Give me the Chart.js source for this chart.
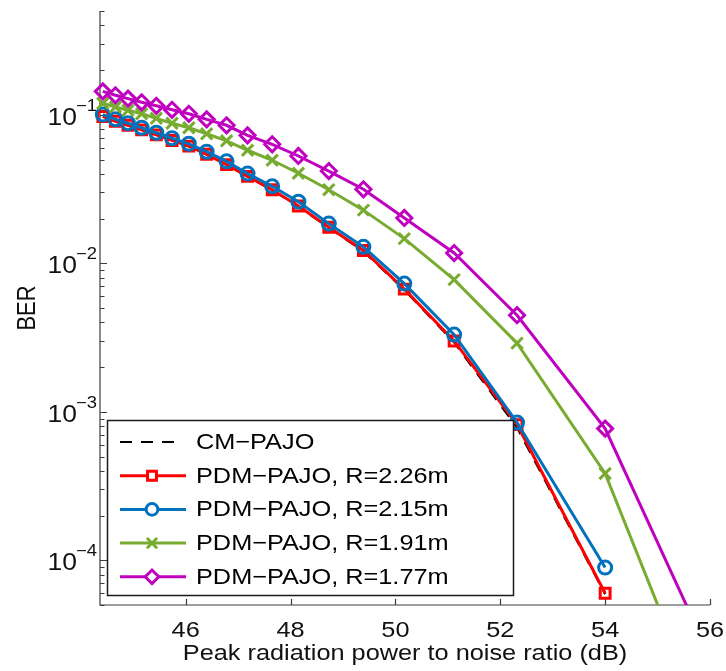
<!DOCTYPE html>
<html>
<head>
<meta charset="utf-8">
<script src="https://cdn.jsdelivr.net/npm/chart.js@4.4.1/dist/chart.umd.min.js"></script>
<style>
html,body{margin:0;padding:0;background:#fff;}
#wrap{width:726px;height:671px;position:relative;}
</style>
</head>
<body>
<div id="wrap"><canvas id="c" width="726" height="671"></canvas></div>
<script>
// ---- data ----
const snrDb = [44.42, 44.66, 44.90, 45.16, 45.44, 45.74, 46.06, 46.40, 46.78, 47.18, 47.65, 48.15, 48.73, 49.39, 50.17, 51.12, 52.32, 54.00, 56.81];
const berCM   = [0.0973, 0.0903, 0.0848, 0.0790, 0.0730, 0.0670, 0.0612, 0.0540, 0.0460, 0.0383, 0.0311, 0.0241, 0.0173, 0.0120, 0.0066, 0.00293, 0.00078, 0.0000590];
const berR226 = [0.0975, 0.0905, 0.0850, 0.0792, 0.0732, 0.0672, 0.0615, 0.0542, 0.0462, 0.0385, 0.0313, 0.0243, 0.0175, 0.0122, 0.0067, 0.0030, 0.00082, 0.0000600];
const berR215 = [0.1003, 0.0933, 0.0877, 0.0818, 0.0757, 0.0695, 0.0638, 0.0564, 0.0486, 0.0402, 0.0330, 0.0260, 0.0185, 0.0129, 0.00730, 0.00331, 0.000846, 0.0000893];
const berR191 = [0.1195, 0.1128, 0.1072, 0.1016, 0.0947, 0.0877, 0.0818, 0.0745, 0.0668, 0.0577, 0.0494, 0.0404, 0.0313, 0.0228, 0.01466, 0.00776, 0.00290, 0.000384, 0.00000127];
const berR177 = [0.1439, 0.1353, 0.1285, 0.1214, 0.1150, 0.1081, 0.1016, 0.0932, 0.0850, 0.0727, 0.0633, 0.0528, 0.0418, 0.0315, 0.0202, 0.01173, 0.00447, 0.000771, 0.00000538];

const seriesNames = ['CM\u2212PAJO', 'PDM\u2212PAJO, R=2.26m', 'PDM\u2212PAJO, R=2.15m', 'PDM\u2212PAJO, R=1.91m', 'PDM\u2212PAJO, R=1.77m'];
const xTickValues = [46, 48, 50, 52, 54, 56];
const yMajorValues = [1e-4, 1e-3, 1e-2, 1e-1];
const yMajorBase = ['10', '10', '10', '10'];
const yMajorExp = ['\u22124', '\u22123', '\u22122', '\u22121'];
const xTitle = 'Peak radiation power to noise ratio (dB)';
const yTitle = 'BER';

const X_MIN = 44.366, X_MAX = 56, Y_MIN = 5e-5, Y_MAX = 0.5;
const FONT = '"Liberation Sans", Arial, Helvetica, sans-serif';
const SX = 1.15; // horizontal stretch of the reference text

function pts(vals) { return vals.map((v, i) => ({x: snrDb[i], y: v})); }

const styles = [
  {color: '#000000', pointStyle: false, radius: 0, width: 2, dash: [12, 9], order: 5},
  {color: '#ff0000', pointStyle: 'rect', radius: 7, width: 3, dash: [], order: 4},
  {color: '#0072bd', pointStyle: 'circle', radius: 6.5, width: 3, dash: [], order: 3},
  {color: '#77ac30', pointStyle: 'crossRot', radius: 8, width: 3, dash: [], order: 2},
  {color: '#bf00bf', pointStyle: 'rectRot', radius: 7.5, width: 3, dash: [], order: 1}
];
const seriesData = [berCM, berR226, berR215, berR191, berR177];

const datasets = seriesData.map((vals, i) => {
  const s = styles[i];
  return {
    label: seriesNames[i],
    data: pts(vals),
    borderColor: s.color,
    backgroundColor: 'rgba(0,0,0,0)',
    borderWidth: s.width,
    borderDash: s.dash,
    pointStyle: s.pointStyle,
    pointRadius: s.radius,
    pointBorderWidth: 3,
    pointBorderColor: s.color,
    pointBackgroundColor: 'rgba(0,0,0,0)',
    tension: 0,
    fill: false,
    order: s.order,
    clip: {left: 14, top: 14, right: 0, bottom: 0}
  };
});

function sText(ctx, text, x, y, align) {
  ctx.save();
  ctx.translate(x, y);
  ctx.scale(SX, 1);
  ctx.textAlign = align;
  ctx.fillText(text, 0, 0);
  ctx.restore();
}

const axesPlugin = {
  id: 'matlabAxes',
  beforeDatasetsDraw(chart) {
    const ctx = chart.ctx;
    const xs = chart.scales.x, ys = chart.scales.y;
    const a = chart.chartArea;
    ctx.save();
    ctx.strokeStyle = '#3c3c3c';
    ctx.lineWidth = 1.2;
    ctx.beginPath();
    ctx.moveTo(a.left, a.top); ctx.lineTo(a.left, a.bottom); ctx.lineTo(a.right, a.bottom);
    ctx.stroke();
    // x ticks (inward)
    ctx.beginPath();
    xTickValues.forEach(v => {
      const px = Math.round(xs.getPixelForValue(v)) + 0.5;
      ctx.moveTo(px, a.bottom); ctx.lineTo(px, a.bottom - 6);
    });
    // y ticks, majors and minors (inward)
    for (let e = -5; e <= -1; e++) {
      for (let m = 1; m <= 9; m++) {
        const v = m * Math.pow(10, e);
        if (v < Y_MIN * 0.999 || v > Y_MAX * 1.001) continue;
        const py = Math.round(ys.getPixelForValue(v)) + 0.5;
        ctx.moveTo(a.left, py); ctx.lineTo(a.left + (m === 1 ? 7 : 4.5), py);
      }
    }
    ctx.stroke();
    // tick labels
    ctx.fillStyle = '#111';
    ctx.textBaseline = 'alphabetic';
    ctx.font = '22px ' + FONT;
    xTickValues.forEach(v => {
      sText(ctx, String(v), xs.getPixelForValue(v), a.bottom + 32, 'center');
    });
    yMajorValues.forEach((v, i) => {
      const py = ys.getPixelForValue(v);
      ctx.font = '16px ' + FONT;
      const supW = ctx.measureText(yMajorExp[i]).width * SX;
      const xr = a.left - 3;
      sText(ctx, yMajorExp[i], xr - supW, py - 4, 'left');
      ctx.font = '23px ' + FONT;
      sText(ctx, yMajorBase[i], xr - supW + 1, py + 10, 'right');
    });
    // axis titles
    ctx.font = '22px ' + FONT;
    sText(ctx, xTitle, (a.left + a.right) / 2, 659.5, 'center');
    ctx.save();
    ctx.translate(35, (a.top + a.bottom) / 2);
    ctx.scale(SX, 1);
    ctx.rotate(-Math.PI / 2);
    ctx.textAlign = 'center';
    ctx.fillText(yTitle, 0, 0);
    ctx.restore();
    ctx.restore();
  },
  afterDatasetsDraw(chart) {
    const ctx = chart.ctx;
    ctx.save();
    // legend box
    const bx = 107.5, by = 420.5, bw = 406, bh = 175;
    ctx.fillStyle = '#fff';
    ctx.fillRect(bx, by, bw, bh);
    ctx.strokeStyle = '#1a1a1a';
    ctx.lineWidth = 1.5;
    ctx.strokeRect(bx, by, bw, bh);
    const rowY0 = 442, rowH = 33.7;
    seriesNames.forEach((name, i) => {
      const s = styles[i];
      const y = rowY0 + i * rowH;
      ctx.save();
      ctx.strokeStyle = s.color;
      ctx.lineWidth = s.width;
      ctx.setLineDash(s.dash);
      ctx.beginPath();
      if (s.dash.length) { ctx.moveTo(120, y); ctx.lineTo(175, y); }
      else { ctx.moveTo(120, y); ctx.lineTo(186, y); }
      ctx.stroke();
      ctx.setLineDash([]);
      if (s.pointStyle && Chart.helpers && Chart.helpers.drawPoint) {
        ctx.fillStyle = '#ffffff';
        ctx.strokeStyle = s.color;
        ctx.lineWidth = 3;
        Chart.helpers.drawPoint(ctx, {pointStyle: s.pointStyle, radius: s.radius * 0.9, borderWidth: 3, rotation: 0}, 152, y);
      }
      ctx.restore();
      ctx.fillStyle = '#000';
      ctx.font = '22px ' + FONT;
      ctx.textBaseline = 'middle';
      sText(ctx, name, 196, y + 1, 'left');
    });
    ctx.restore();
  }
};

new Chart(document.getElementById('c'), {
  type: 'line',
  data: {datasets: datasets},
  options: {
    responsive: false,
    animation: false,
    devicePixelRatio: 1,
    events: [],
    layout: {padding: {left: 100, top: 11, right: 16, bottom: 66}},
    plugins: {legend: {display: false}, tooltip: {enabled: false}, title: {display: false}},
    scales: {
      x: {type: 'linear', min: X_MIN, max: X_MAX, bounds: 'data', display: false},
      y: {type: 'logarithmic', min: Y_MIN, max: Y_MAX, bounds: 'data', display: false}
    }
  },
  plugins: [axesPlugin]
});
</script>
</body>
</html>
